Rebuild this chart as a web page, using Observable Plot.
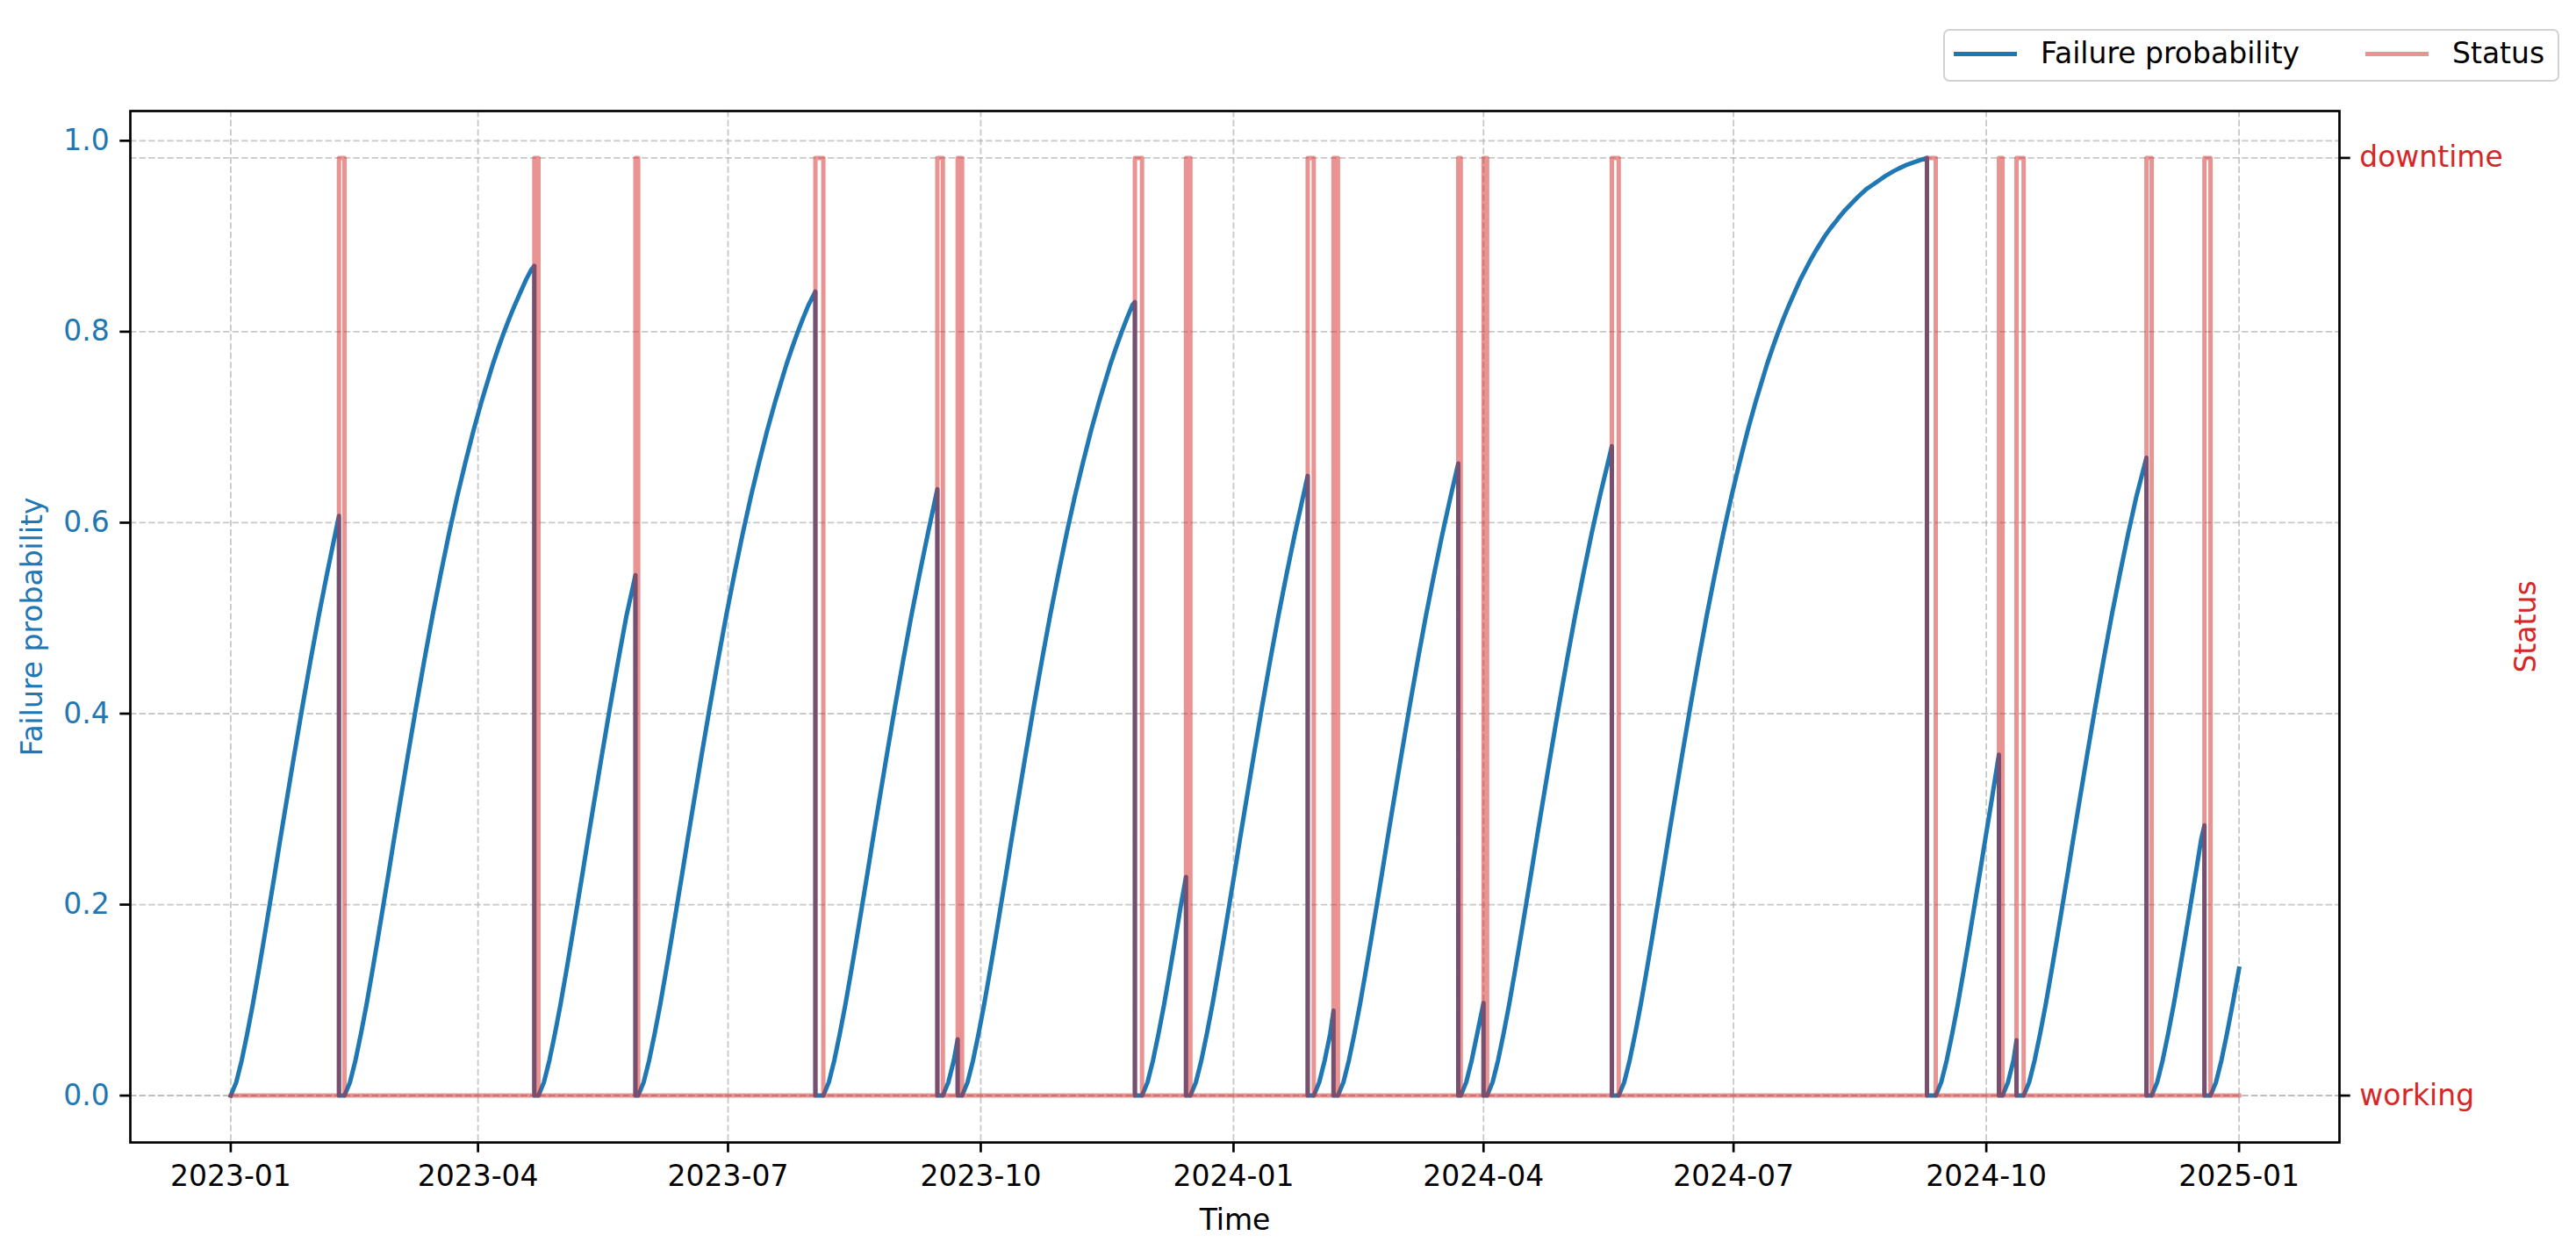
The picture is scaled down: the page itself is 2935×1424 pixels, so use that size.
<!DOCTYPE html>
<html>
<head>
<meta charset="utf-8">
<script src="https://cdn.jsdelivr.net/npm/d3@7"></script>
<script src="https://cdn.jsdelivr.net/npm/@observablehq/plot@0.6"></script>
<style>
  body { margin: 0; background: #fff; }
  #wrap { position: relative; width: 2935px; height: 1424px; font-family: "DejaVu Sans"; }
  #legend { position: absolute; left: 2214px; top: 33px; width: 702px; height: 60px; box-sizing: border-box;
            border: 2px solid #d2d2d2; border-radius: 7px; background: rgba(255,255,255,0.8); font-size: 33px; }
  #legend .sw { position: absolute; top: 24px; width: 72px; height: 5px; }
  #legend .tx { position: absolute; top: 9px; line-height: 33px; white-space: nowrap; color: #000; }
</style>
</head>
<body>
<div id="wrap">
  <div id="legend">
    <span class="sw" style="left:10px;background:#1f77b4;"></span>
    <span class="tx" style="left:109px;">Failure probability</span>
    <span class="sw" style="left:479px;background:#d62728;opacity:0.5;"></span>
    <span class="tx" style="left:578px;">Status</span>
  </div>
</div>
<script>
// ---------------- data ----------------
const startDate = "2023-01-01";
const endDate = "2025-01-01";

// failure and repair moments, in days since startDate
const failDay   = [39.4, 110.5, 147.3, 212.8, 257.2, 264.6, 329.1, 347.7, 392.0, 401.4, 446.8, 456.0, 502.7, 617.4, 643.6, 650.0, 697.3, 718.4];
const repairDay = [41.4, 112.0, 148.3, 215.7, 259.2, 266.2, 331.7, 349.3, 394.2, 403.0, 447.7, 457.3, 505.2, 620.6, 644.9, 652.6, 699.2, 720.6];
// failure probability reached at each failure
const peakProb  = [0.607, 0.869, 0.545, 0.842, 0.635, 0.059, 0.831, 0.229, 0.649, 0.089, 0.662, 0.097, 0.680, 0.982, 0.357, 0.058, 0.668, 0.283];
// failure probability at the end of the record
const endProb = 0.133;

// failure probability vs. age since last repair (read from the long 2024 cycle)
const ageDays = [0, 2, 4, 6, 8, 10, 12, 14, 16, 18, 20, 23, 26, 29, 32, 35, 38, 41, 44, 47, 50, 52, 54, 56, 58, 60, 62, 64, 66, 68, 70, 72, 75, 77, 80, 82, 85, 87, 90, 92, 95, 97, 100, 102, 105, 107, 110];
const ageProb = [0, 0.014, 0.037, 0.065, 0.095, 0.128, 0.162, 0.197, 0.232, 0.268, 0.303, 0.355, 0.406, 0.455, 0.502, 0.546, 0.588, 0.627, 0.663, 0.697, 0.728, 0.747, 0.766, 0.783, 0.799, 0.814, 0.828, 0.841, 0.854, 0.865, 0.876, 0.886, 0.900, 0.908, 0.919, 0.926, 0.935, 0.941, 0.949, 0.953, 0.959, 0.963, 0.968, 0.971, 0.975, 0.977, 0.980];

const yTicks = [0.0, 0.2, 0.4, 0.6, 0.8, 1.0];
const xTickLabels = ["2023-01", "2023-04", "2023-07", "2023-10", "2024-01", "2024-04", "2024-07", "2024-10", "2025-01"];
const statusLabels = ["working", "downtime"];
const statusValues = [0, 1];

// ---------------- build series ----------------
const DAY = 864e5;
const t0 = new Date(startDate + "T00:00:00Z");
const toDate = d => new Date(+t0 + d * DAY);
const totalDays = (new Date(endDate + "T00:00:00Z") - t0) / DAY;

const prob = [];
let cycleStart = 0;
for (let i = 0; i <= failDay.length; i++) {
  const last = i === failDay.length;
  const end = last ? totalDays : failDay[i];
  const peak = last ? endProb : peakProb[i];
  const dur = end - cycleStart;
  ageDays.forEach((a, j) => { if (a < dur - 0.8) prob.push({t: toDate(cycleStart + a), p: ageProb[j]}); });
  prob.push({t: toDate(end), p: peak});
  if (!last) {
    prob.push({t: toDate(end), p: 0});
    cycleStart = repairDay[i];
  }
}

const status = [{t: toDate(0), s: 0}];
failDay.forEach((f, i) => {
  status.push({t: toDate(f), s: 1});
  status.push({t: toDate(repairDay[i]), s: 0});
});
status.push({t: toDate(totalDays), s: 0});

// ---------------- scales (matplotlib-like 5% margins, twin axis) ----------------
const pMax = d3.max(prob, d => d.p);
const pPad = 0.05 * pMax;
const yDomain = [-pPad, pMax + pPad];
const sDomain = [-0.05, 1.05];
const sToY = d3.scaleLinear().domain(sDomain).range(yDomain);
const statusTicksY = statusValues.map(v => sToY(v));
const xPad = 0.05 * totalDays;
const xDomain = [toDate(-xPad), toDate(totalDays + xPad)];
const xTicks = xTickLabels.map(s => new Date(s + "-01T00:00:00Z"));

const gridStyle = {stroke: "#b0b0b0", strokeOpacity: 0.7, strokeWidth: 1.8, strokeDasharray: "7.4,3.2"};
const FS = 33;

const chart = Plot.plot({
  width: 2935,
  height: 1424,
  marginLeft: 148,
  marginRight: 270,
  marginTop: 126,
  marginBottom: 123,
  style: {background: "white", fontFamily: "DejaVu Sans", fontSize: FS + "px", overflow: "visible"},
  x: {type: "utc", domain: xDomain},
  y: {domain: yDomain},
  marks: [
    Plot.gridX(xTicks, gridStyle),
    Plot.gridY(yTicks, gridStyle),
    Plot.gridY(statusTicksY, gridStyle),
    Plot.line(prob, {x: "t", y: "p", stroke: "#1f77b4", strokeWidth: 5, strokeLinejoin: "round", strokeLinecap: "square"}),
    Plot.line(status, {x: "t", y: d => sToY(d.s), curve: "step-after", stroke: "#d62728", strokeOpacity: 0.5, strokeWidth: 5, strokeLinecap: "square"}),
    Plot.axisX(xTicks, {tickFormat: d3.utcFormat("%Y-%m"), tickSize: 11.7, tickPadding: 14, stroke: "black", strokeWidth: 2.7, fill: "black", label: null, fontSize: FS}),
    Plot.axisY(yTicks, {tickFormat: d3.format(".1f"), tickSize: 11.7, tickPadding: 12, stroke: "black", strokeWidth: 2.7, fill: "#1f77b4", label: null, fontSize: FS}),
    Plot.axisY(statusTicksY, {anchor: "right", tickFormat: v => statusLabels[statusTicksY.indexOf(v)], tickSize: 11.7, tickPadding: 11, stroke: "black", strokeWidth: 2.7, fill: "#d62728", label: null, fontSize: FS}),
    Plot.frame({stroke: "black", strokeWidth: 2.7}),
    Plot.text(["Time"], {frameAnchor: "bottom", dy: 89, textAnchor: "middle", lineAnchor: "middle", fontSize: FS, fill: "black"}),
    Plot.text(["Failure probability"], {frameAnchor: "left", dx: -111, rotate: -90, textAnchor: "middle", lineAnchor: "middle", fontSize: FS, fill: "#1f77b4"}),
    Plot.text(["Status"], {frameAnchor: "right", dx: 213, rotate: -90, textAnchor: "middle", lineAnchor: "middle", fontSize: FS, fill: "#d62728"})
  ]
});
document.getElementById("wrap").prepend(chart);
</script>
</body>
</html>
